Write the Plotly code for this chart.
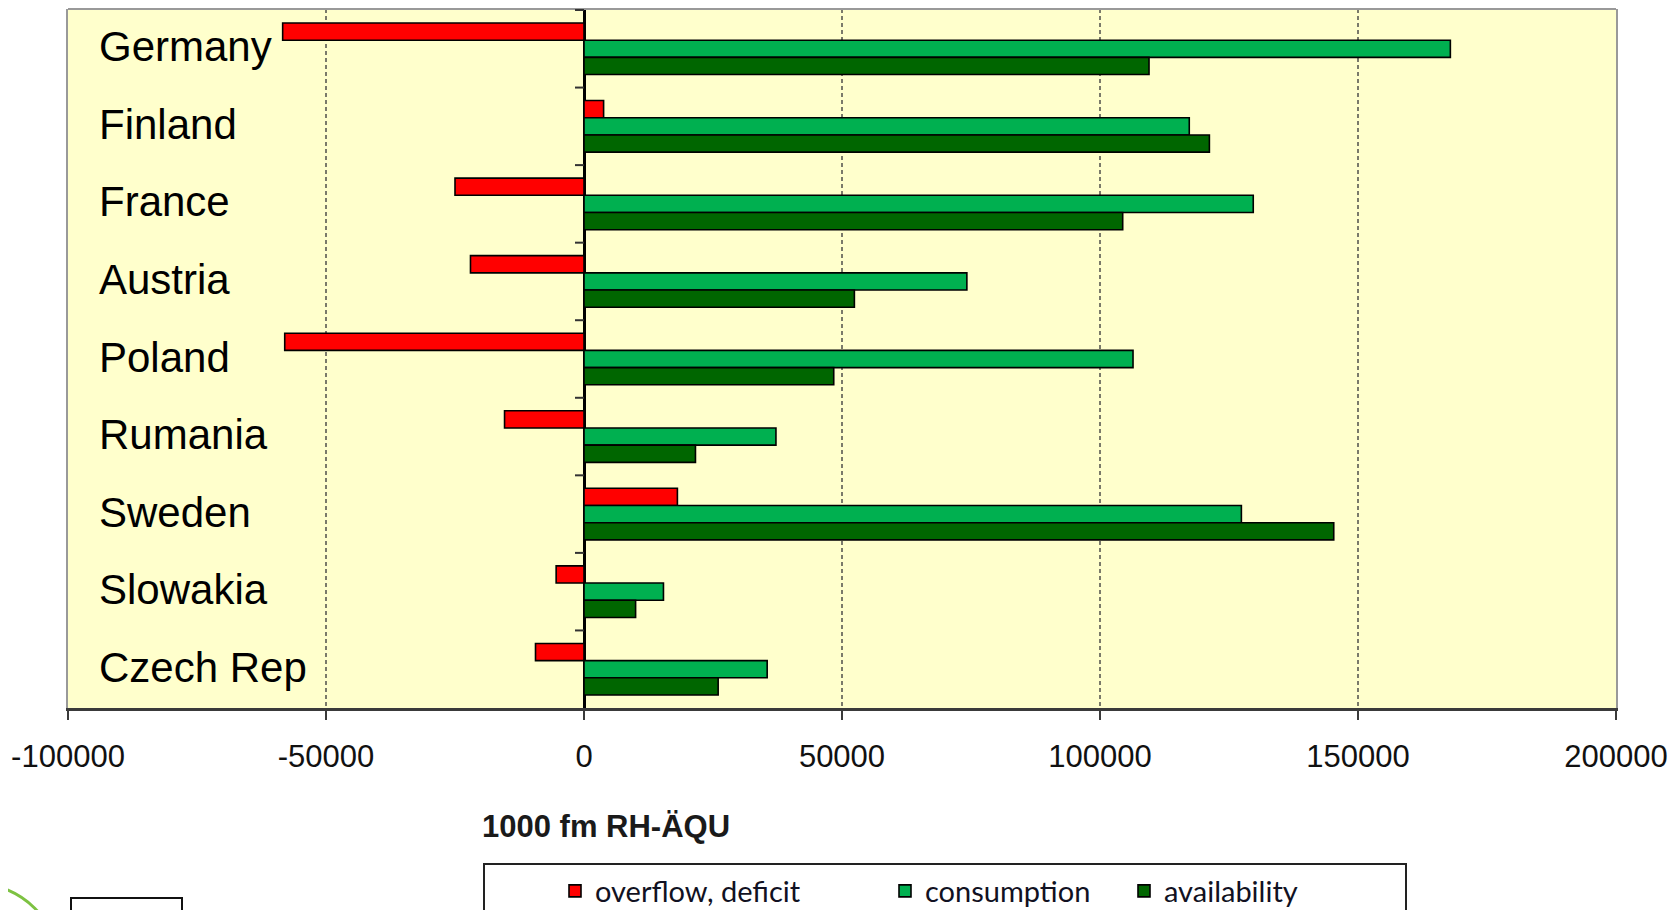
import plotly.graph_objects as go

# ---------------- data ----------------
countries = ["Germany", "Finland", "France", "Austria", "Poland",
             "Rumania", "Sweden", "Slowakia", "Czech Rep"]
overflow_deficit = [-58400, 3800, -25000, -22000, -58000, -15400, 18100, -5400, -9400]
consumption = [167900, 117300, 129700, 74200, 106400, 37200, 127400, 15400, 35500]
availability = [109500, 121200, 104400, 52400, 48400, 21600, 145300, 10000, 26000]

x_tick_values = [-100000, -50000, 0, 50000, 100000, 150000, 200000]
x_tick_labels = ["-100000", "-50000", "0", "50000", "100000", "150000", "200000"]

series_names = ["overflow, deficit", "consumption", "availability"]
series_values = [overflow_deficit, consumption, availability]
series_colors = ["#FF0000", "#00B050", "#006600"]
axis_title = "1000 fm RH-ÄQU"

# ---------------- geometry ----------------
# the page body has an 8px default margin; size the figure so it fits the window exactly
OFF = 8
WIDTH, HEIGHT = 1680 - 2 * OFF, 918 - 2 * OFF
ML, MR, MT, MB = 60, 56, 1, 202
PW = WIDTH - ML - MR
PH = HEIGHT - MT - MB
PBOT = HEIGHT - MB


def pxx(px):
    """page-pixel x -> paper x"""
    return (px - OFF - ML) / PW


def pxy(py):
    """page-pixel y -> paper y"""
    return (PBOT - (py - OFF)) / PH


fig = go.Figure()
legend_ids = ["legend", "legend2", "legend3"]
for name, vals, color, lg in zip(series_names, series_values, series_colors, legend_ids):
    fig.add_trace(go.Bar(
        y=countries, x=vals, name=name, orientation="h",
        marker=dict(color=color, line=dict(color="#000000", width=1.6)),
        legend=lg, showlegend=True,
    ))

legend_font = dict(family="Lato, Liberation Sans, sans-serif", size=29, color="#111122")
legend_common = dict(orientation="h", yanchor="middle", y=pxy(891), xanchor="left",
                     bgcolor="rgba(0,0,0,0)", borderwidth=0, font=legend_font, visible=True)

shapes = []
# top border of plot area
shapes.append(dict(type="line", xref="paper", yref="paper", x0=0, x1=1, y0=1, y1=1,
                   line=dict(color="#999999", width=2)))
# category separator ticks on the zero axis
for i in range(len(countries)):
    shapes.append(dict(type="line", xref="x", yref="y", xsizemode="pixel", xanchor=0,
                       x0=-9, x1=0, y0=i - 0.5, y1=i - 0.5,
                       line=dict(color="#333333", width=2)))
# legend frame
shapes.append(dict(type="rect", xref="paper", yref="paper",
                   x0=pxx(484), x1=pxx(1406), y0=pxy(864), y1=pxy(960),
                   line=dict(color="#222222", width=2)))
# partial logo at bottom-left
shapes.append(dict(type="circle", xref="paper", yref="paper",
                   x0=pxx(-25 - 84.5), x1=pxx(-25 + 84.5), y0=pxy(968 - 84.5), y1=pxy(968 + 84.5),
                   line=dict(color="#7DC242", width=3)))
shapes.append(dict(type="rect", xref="paper", yref="paper",
                   x0=pxx(71), x1=pxx(182), y0=pxy(898), y1=pxy(960),
                   line=dict(color="#111111", width=2)))
shapes.append(dict(type="circle", xref="paper", yref="paper",
                   x0=pxx(93), x1=pxx(109), y0=pxy(916), y1=pxy(932),
                   fillcolor="#2E9B2E", line=dict(color="#2E9B2E", width=1)))

# country names drawn inside the plot, at each category position
annotations = [dict(
    text=c, xref="paper", yref="y", x=pxx(97), y=c, yshift=2,
    xanchor="left", yanchor="middle", showarrow=False,
    font=dict(family="Liberation Sans, Arial, sans-serif", size=42, color="#000000"),
) for c in countries]
annotations.append(dict(
    text="<b>" + axis_title + "</b>", xref="paper", yref="paper",
    x=pxx(480), y=pxy(826), xanchor="left", yanchor="middle", showarrow=False,
    font=dict(family="Liberation Sans, Arial, sans-serif", size=31, color="#1a1a1a"),
))

fig.update_layout(
    width=WIDTH, height=HEIGHT,
    margin=dict(l=ML, r=MR, t=MT, b=MB, pad=0, autoexpand=False),
    paper_bgcolor="#FFFFFF",
    plot_bgcolor="#FFFFCC",
    showlegend=True,
    barmode="group",
    bargap=0.335,
    bargroupgap=0,
    font=dict(family="Liberation Sans, Arial, sans-serif", color="#000000"),
    legend=dict(x=pxx(555), **legend_common),
    legend2=dict(x=pxx(885), **legend_common),
    legend3=dict(x=pxx(1124), **legend_common),
    shapes=shapes,
    annotations=annotations,
)

fig.update_xaxes(
    range=[-100000, 200000],
    tickmode="array", tickvals=x_tick_values, ticktext=x_tick_labels,
    showgrid=True, gridcolor="#7a7a6a", gridwidth=2, griddash="4px,3px",
    zeroline=True, zerolinecolor="#000000", zerolinewidth=2.5,
    showline=True, linecolor="#3a3a3a", linewidth=3, mirror=False,
    ticks="outside", ticklen=9, tickwidth=2, tickcolor="#3a3a3a",
    tickfont=dict(size=31, color="#111111"),
    ticklabelstandoff=10, ticklabeloverflow="allow", automargin=False,
)

fig.update_yaxes(
    categoryorder="array", categoryarray=countries, autorange="reversed",
    showgrid=False, zeroline=False,
    ticks="", showticklabels=False, automargin=False,
    showline=True, mirror=True, linecolor="#999999", linewidth=2,
)

fig.write_html("out.html")
